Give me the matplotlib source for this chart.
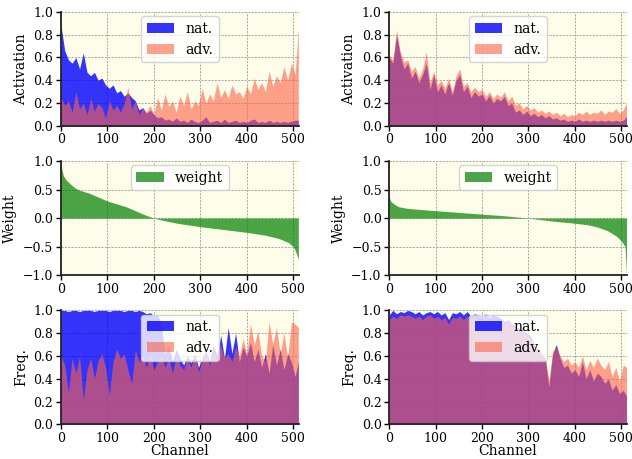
import numpy as np
import matplotlib
matplotlib.use('Agg')
import matplotlib.pyplot as plt

plt.rcParams['font.family'] = 'DejaVu Serif'

# ─────────────────────────────────────────────
# DATA (one value every 8 channels)
# ─────────────────────────────────────────────
channels = list(range(0, 512, 8)) + [511]

act_nat_l = [0.88, 0.66, 0.58, 0.55, 0.60, 0.50, 0.64, 0.47, 0.44, 0.47,
             0.40, 0.42, 0.36, 0.33, 0.36, 0.29, 0.31, 0.26, 0.29, 0.25,
             0.22, 0.14, 0.16, 0.11, 0.14, 0.10, 0.07, 0.08, 0.05, 0.06,
             0.04, 0.07, 0.04, 0.05, 0.03, 0.06, 0.04, 0.03, 0.05, 0.08,
             0.03, 0.04, 0.05, 0.03, 0.06, 0.03, 0.04, 0.05, 0.03, 0.04,
             0.03, 0.05, 0.06, 0.03, 0.04, 0.03, 0.05, 0.03, 0.04, 0.03,
             0.04, 0.03, 0.04, 0.05, 0.05]
act_adv_l = [0.25, 0.18, 0.22, 0.12, 0.30, 0.15, 0.20, 0.10, 0.24, 0.13,
             0.20, 0.16, 0.07, 0.22, 0.14, 0.18, 0.12, 0.20, 0.34, 0.15,
             0.22, 0.10, 0.16, 0.12, 0.18, 0.10, 0.25, 0.14, 0.28, 0.17,
             0.22, 0.12, 0.26, 0.18, 0.30, 0.15, 0.22, 0.18, 0.33, 0.20,
             0.28, 0.22, 0.38, 0.25, 0.32, 0.24, 0.36, 0.28, 0.30, 0.24,
             0.35, 0.28, 0.42, 0.32, 0.38, 0.30, 0.48, 0.35, 0.44, 0.38,
             0.52, 0.40, 0.55, 0.45, 0.85]
act_nat_r = [0.60, 0.55, 0.80, 0.62, 0.50, 0.55, 0.42, 0.48, 0.38, 0.45,
             0.55, 0.32, 0.45, 0.30, 0.36, 0.28, 0.38, 0.27, 0.40, 0.45,
             0.30, 0.35, 0.25, 0.30, 0.26, 0.28, 0.22, 0.27, 0.20, 0.24,
             0.22, 0.26, 0.18, 0.20, 0.12, 0.14, 0.10, 0.13, 0.09, 0.11,
             0.08, 0.10, 0.07, 0.09, 0.06, 0.07, 0.05, 0.06, 0.04, 0.05,
             0.04, 0.06, 0.04, 0.05, 0.04, 0.05, 0.04, 0.05, 0.04, 0.05,
             0.04, 0.05, 0.04, 0.05, 0.08]
act_adv_r = [0.62, 0.58, 0.84, 0.65, 0.56, 0.58, 0.48, 0.52, 0.42, 0.50,
             0.65, 0.38, 0.48, 0.36, 0.40, 0.33, 0.42, 0.30, 0.44, 0.50,
             0.35, 0.38, 0.30, 0.34, 0.30, 0.32, 0.26, 0.30, 0.24, 0.28,
             0.25, 0.30, 0.22, 0.26, 0.18, 0.20, 0.15, 0.18, 0.14, 0.16,
             0.12, 0.14, 0.11, 0.13, 0.10, 0.12, 0.09, 0.11, 0.08, 0.10,
             0.09, 0.12, 0.10, 0.13, 0.10, 0.12, 0.11, 0.14, 0.10, 0.13,
             0.12, 0.15, 0.11, 0.14, 0.20]

# sorted weights: smooth, so fewer samples are enough
w_ch_l = [0, 2, 5, 10, 20, 30, 40, 60, 80, 100, 120, 140, 160, 180, 200,
          220, 250, 300, 350, 400, 440, 470, 490, 500, 505, 511]
weight_l = [0.98, 0.85, 0.75, 0.68, 0.60, 0.53, 0.49, 0.44, 0.37, 0.30,
            0.25, 0.20, 0.13, 0.06, 0.00, -0.04, -0.09, -0.15, -0.20,
            -0.25, -0.30, -0.36, -0.43, -0.50, -0.58, -0.72]
w_ch_r = [0, 3, 10, 20, 40, 70, 100, 150, 200, 250, 300, 350, 400, 430,
          450, 470, 490, 500, 508, 511]
weight_r = [0.38, 0.30, 0.25, 0.20, 0.17, 0.15, 0.13, 0.10, 0.07, 0.04,
            0.00, -0.05, -0.09, -0.12, -0.16, -0.22, -0.32, -0.40, -0.50,
            -0.98]

freq_nat_l = [1.00, 1.00, 0.99, 1.00, 1.00, 0.99, 1.00, 1.00, 1.00, 0.99,
              1.00, 1.00, 1.00, 0.99, 1.00, 1.00, 1.00, 0.99, 1.00, 1.00,
              0.99, 1.00, 0.99, 0.97, 0.98, 0.95, 0.96, 0.88, 0.62, 0.70,
              0.55, 0.66, 0.58, 0.52, 0.60, 0.54, 0.62, 0.50, 0.58, 0.64,
              0.55, 0.70, 0.60, 0.78, 0.58, 0.85, 0.62, 0.80, 0.55, 0.68,
              0.60, 0.72, 0.55, 0.66, 0.50, 0.62, 0.45, 0.70, 0.52, 0.66,
              0.48, 0.62, 0.55, 0.42, 0.55]
freq_adv_l = [0.60, 0.52, 0.28, 0.58, 0.45, 0.60, 0.22, 0.48, 0.58, 0.40,
              0.56, 0.62, 0.50, 0.26, 0.55, 0.66, 0.58, 0.62, 0.48, 0.36,
              0.65, 0.55, 0.60, 0.50, 0.62, 0.48, 0.55, 0.60, 0.50, 0.58,
              0.45, 0.60, 0.52, 0.48, 0.58, 0.50, 0.62, 0.46, 0.56, 0.62,
              0.52, 0.65, 0.55, 0.70, 0.58, 0.62, 0.55, 0.68, 0.60, 0.75,
              0.62, 0.88, 0.70, 0.82, 0.60, 0.55, 0.90, 0.70, 0.85, 0.62,
              0.80, 0.58, 0.90, 0.88, 0.85]
freq_nat_r = [0.96, 1.00, 0.97, 0.99, 0.98, 1.00, 0.99, 0.97, 0.99, 0.96,
              0.98, 0.99, 0.97, 0.99, 0.96, 0.98, 0.92, 0.98, 0.97, 0.99,
              0.96, 0.99, 0.95, 0.97, 0.96, 0.95, 0.97, 0.94, 0.96, 0.95,
              0.93, 0.90, 0.92, 0.88, 0.86, 0.84, 0.82, 0.80, 0.78, 0.70,
              0.66, 0.62, 0.58, 0.33, 0.62, 0.70, 0.58, 0.50, 0.52, 0.45,
              0.48, 0.42, 0.55, 0.40, 0.48, 0.38, 0.45, 0.42, 0.36, 0.40,
              0.30, 0.35, 0.27, 0.30, 0.25]
freq_adv_r = [0.92, 0.95, 0.93, 0.96, 0.95, 0.96, 0.95, 0.93, 0.95, 0.92,
              0.95, 0.96, 0.93, 0.95, 0.92, 0.94, 0.88, 0.94, 0.93, 0.95,
              0.92, 0.95, 0.92, 0.93, 0.92, 0.91, 0.93, 0.90, 0.92, 0.91,
              0.90, 0.88, 0.90, 0.86, 0.85, 0.83, 0.81, 0.79, 0.76, 0.70,
              0.66, 0.62, 0.58, 0.38, 0.64, 0.68, 0.60, 0.55, 0.58, 0.52,
              0.55, 0.50, 0.60, 0.48, 0.56, 0.50, 0.58, 0.52, 0.48, 0.55,
              0.42, 0.50, 0.38, 0.52, 0.50]

# ─────────────────────────────────────────────
# STYLE
# ─────────────────────────────────────────────
C_NAT = 'blue'; C_ADV = 'tomato'; C_W = 'green'
BG = '#fdfde9'
FS_LAB = 10; FS_TICK = 9; FS_LEG = 10


def style_ax(ax, ylim, yticks):
    ax.set_facecolor(BG)
    ax.set_xlim(0, 512); ax.set_ylim(*ylim)
    ax.set_xticks([0, 100, 200, 300, 400, 500])
    ax.set_yticks(yticks)
    ax.grid(True, ls=(0, (2.5, 1.5)), color='#9a9a9a', lw=0.6)
    ax.set_axisbelow(True)
    for s in ('top', 'right'):
        ax.spines[s].set_visible(False)
    for s in ('left', 'bottom'):
        ax.spines[s].set_linewidth(1.3)
        ax.spines[s].set_color('#222222')
    ax.tick_params(labelsize=FS_TICK, length=3.5, width=1.0, pad=2)


fig, axes = plt.subplots(3, 2, figsize=(6.32, 4.59), dpi=100)
fig.subplots_adjust(left=0.0965, right=0.992, top=0.974, bottom=0.0756,
                    wspace=0.38, hspace=0.31)

act_pairs = [(act_nat_l, act_adv_l), (act_nat_r, act_adv_r)]
weights = [(w_ch_l, weight_l), (w_ch_r, weight_r)]
freq_pairs = [(freq_nat_l, freq_adv_l), (freq_nat_r, freq_adv_r)]

for col in range(2):
    # Activation
    ax = axes[0, col]
    nat, adv = act_pairs[col]
    ax.fill_between(channels, 0, nat, color=C_NAT, alpha=0.8, lw=0, label='nat.')
    ax.fill_between(channels, 0, adv, color=C_ADV, alpha=0.6, lw=0, label='adv.')
    style_ax(ax, (0, 1), [0, 0.2, 0.4, 0.6, 0.8, 1.0])
    ax.set_ylabel('Activation', fontsize=FS_LAB)
    ax.legend(loc='upper center', fontsize=FS_LEG, borderaxespad=0.3)

    # Weight
    ax = axes[1, col]
    wc, wv = weights[col]
    ax.fill_between(wc, 0, wv, color=C_W, alpha=0.7, lw=0, label='weight')
    style_ax(ax, (-1, 1), [-1.0, -0.5, 0.0, 0.5, 1.0])
    ax.set_ylabel('Weight', fontsize=FS_LAB)
    ax.legend(loc='upper center', fontsize=FS_LEG, borderaxespad=0.3)

    # Frequency
    ax = axes[2, col]
    nat, adv = freq_pairs[col]
    ax.fill_between(channels, 0, nat, color=C_NAT, alpha=0.8, lw=0, label='nat.')
    ax.fill_between(channels, 0, adv, color=C_ADV, alpha=0.6, lw=0, label='adv.')
    style_ax(ax, (0, 1), [0, 0.2, 0.4, 0.6, 0.8, 1.0])
    ax.set_ylabel('Freq.', fontsize=FS_LAB)
    ax.set_xlabel('Channel', fontsize=FS_LAB, labelpad=-1)
    ax.legend(loc='upper center', fontsize=FS_LEG, borderaxespad=0.3)

plt.savefig('out.png', dpi=100)
